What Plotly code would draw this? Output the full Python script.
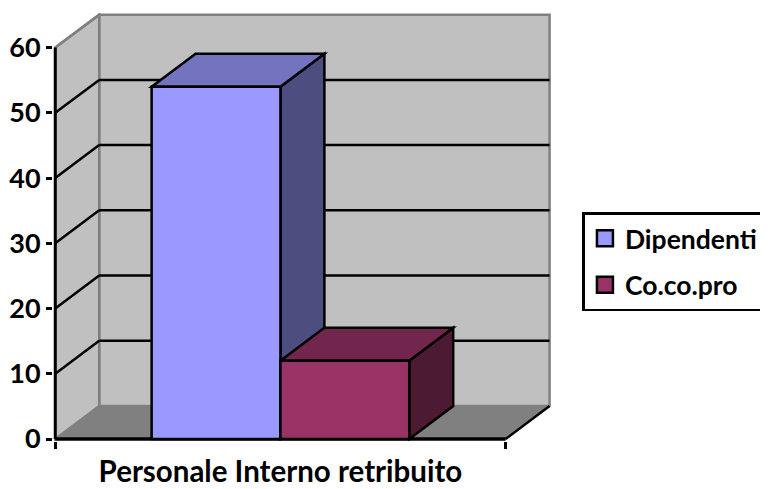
import plotly.graph_objects as go

categories = ["Personale Interno retribuito"]
series_names = ["Dipendenti", "Co.co.pro"]
series_values = [[54], [12]]
y_ticks = [0, 10, 20, 30, 40, 50, 60]

front_colors = ["#9999FF", "#993366"]
top_colors = ["#7373BF", "#73264D"]
side_colors = ["#4D4D80", "#4D1A33"]

FONT = "Lato"
DEPTH_X = 0.0976   # depth offset in category units
DEPTH_Y = 5.05     # depth offset in value units
GROUP = 0.572      # share of the category taken by the bars
L, R = -0.5, 0.5
Y_MAX = y_ticks[-1]
BAR_W = GROUP / len(series_values)
LW = 2.5


def poly(pts, fill, line="black", width=LW):
    path = "M" + "L".join(f"{x},{y}" for x, y in pts) + "Z"
    return dict(type="path", path=path, xref="x", yref="y", fillcolor=fill,
                line=dict(color=line, width=width), layer="below")


def seg(x0, y0, x1, y1, color="black", width=LW):
    return dict(type="line", x0=x0, y0=y0, x1=x1, y1=y1, xref="x", yref="y",
                line=dict(color=color, width=width), layer="below")


shapes = [
    poly([(L + DEPTH_X, DEPTH_Y), (R + DEPTH_X, DEPTH_Y), (R + DEPTH_X, Y_MAX + DEPTH_Y),
          (L + DEPTH_X, Y_MAX + DEPTH_Y)], "#C0C0C0", "#808080", LW),
    poly([(L, 0), (L + DEPTH_X, DEPTH_Y), (L + DEPTH_X, Y_MAX + DEPTH_Y), (L, Y_MAX)],
         "#C0C0C0", "#808080", LW),
    poly([(L, 0), (R, 0), (R + DEPTH_X, DEPTH_Y), (L + DEPTH_X, DEPTH_Y)], "#808080", "#808080", 1),
]
for t in y_ticks[1:-1]:
    shapes.append(seg(L, t, L + DEPTH_X, t + DEPTH_Y))
    shapes.append(seg(L + DEPTH_X, t + DEPTH_Y, R + DEPTH_X, t + DEPTH_Y))
shapes.append(seg(L, Y_MAX, L + DEPTH_X, Y_MAX + DEPTH_Y, "#808080", LW))
shapes.append(seg(R, 0, R + DEPTH_X, DEPTH_Y, "black", LW))

for i, vals in enumerate(series_values):
    v = vals[0]
    x0 = -GROUP / 2 + i * BAR_W
    x1 = x0 + BAR_W
    shapes.append(poly([(x1, 0), (x1 + DEPTH_X, DEPTH_Y), (x1 + DEPTH_X, v + DEPTH_Y), (x1, v)], side_colors[i]))
    shapes.append(poly([(x0, v), (x1, v), (x1 + DEPTH_X, v + DEPTH_Y), (x0 + DEPTH_X, v + DEPTH_Y)], top_colors[i]))

shapes.append(seg(L, 0, L, Y_MAX, "black", 3))
shapes.append(seg(L, 0, R, 0, "black", 3.5))

fig = go.Figure()
for i, name in enumerate(series_names):
    fig.add_trace(go.Bar(x=categories, y=series_values[i], name=name, showlegend=False,
                         marker=dict(color=front_colors[i], line=dict(color="black", width=LW))))
for i, name in enumerate(series_names):
    fig.add_trace(go.Scatter(x=[None], y=[None], mode="markers", name=name, legendgroup=name,
                             marker=dict(symbol="square", size=18, color=front_colors[i],
                                         line=dict(color="black", width=2.5))))

fig.update_layout(
    width=768, height=489,
    margin=dict(l=45, r=223.5, t=5, b=56, autoexpand=False),
    paper_bgcolor="white", plot_bgcolor="white",
    barmode="group", bargap=1 - GROUP, bargroupgap=0,
    font=dict(family=FONT, size=27, color="black", weight="bold"),
    shapes=shapes,
    legend=dict(x=1.061, y=0.535, xanchor="left", yanchor="top",
                bordercolor="black", borderwidth=2.5, bgcolor="white",
                traceorder="grouped", tracegroupgap=9,
                entrywidth=220, entrywidthmode="pixels",
                font=dict(family=FONT, size=26.5, color="black", weight="bold")),
    xaxis=dict(type="category", range=[-0.505, 0.603], tickson="boundaries", ticks="outside",
               ticklen=7, tickwidth=2.5, tickcolor="black", showgrid=False, zeroline=False,
               showline=False, fixedrange=True, ticklabelstandoff=10,
               tickfont=dict(family=FONT, size=29.5, color="black", weight="bold")),
    yaxis=dict(range=[-0.3, 65.3], tickvals=y_ticks, ticks="outside", ticklen=6, tickwidth=2.5,
               tickcolor="black", showgrid=False, zeroline=False, showline=False, fixedrange=True),
)
fig.write_html("out.html")
